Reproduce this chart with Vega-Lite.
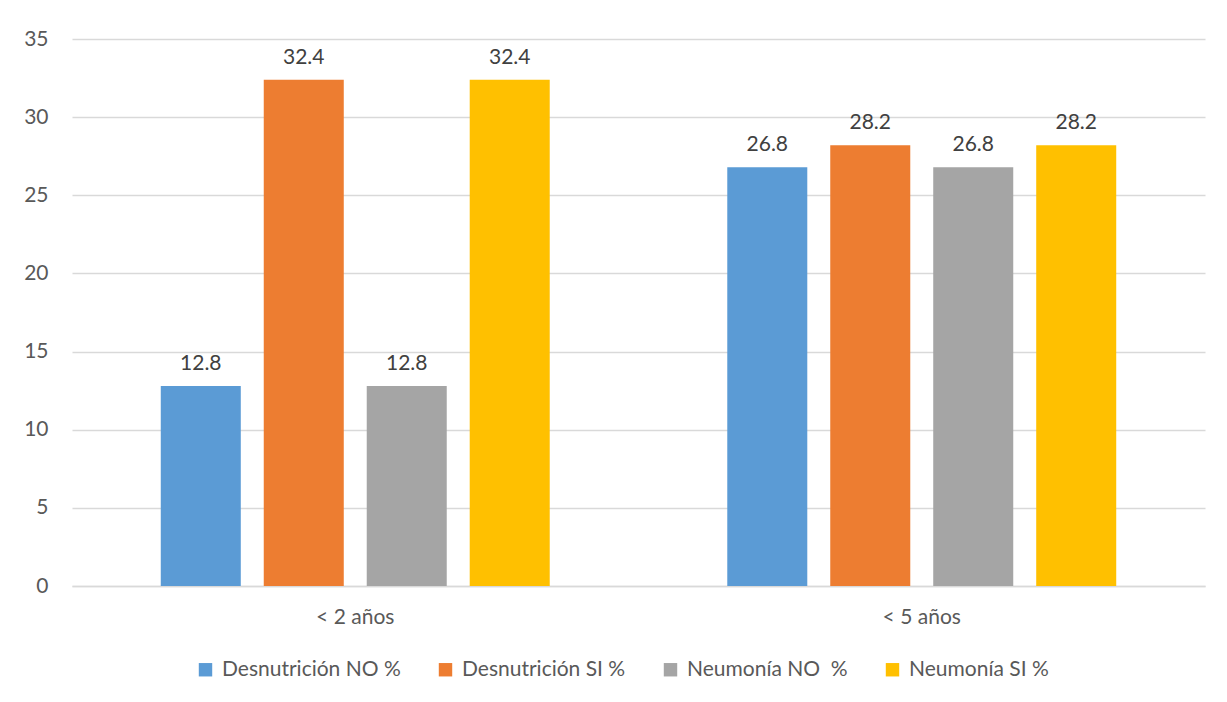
{
  "$schema": "https://vega.github.io/schema/vega-lite/v6.json",
  "autosize": {"type": "none"},
  "width": 1133,
  "height": 547,
  "padding": {"left": 72, "top": 39, "right": 22, "bottom": 116},
  "background": "white",
  "config": {
    "font": "Lato",
    "view": {"stroke": null},
    "axis": {"labelFont": "Lato", "labelColor": "#595959", "labelFontSize": 21, "titleFont": "Lato"},
    "legend": {"labelFont": "Lato", "labelColor": "#595959", "labelFontSize": 21, "labelLimit": 400}
  },
  "data": {
    "values": [
      {"grupo": "< 2 años", "serie": "Desnutrición NO %", "valor": 12.8},
      {"grupo": "< 2 años", "serie": "Desnutrición SI %", "valor": 32.4},
      {"grupo": "< 2 años", "serie": "Neumonía NO  %", "valor": 12.8},
      {"grupo": "< 2 años", "serie": "Neumonía SI %", "valor": 32.4},
      {"grupo": "< 5 años", "serie": "Desnutrición NO %", "valor": 26.8},
      {"grupo": "< 5 años", "serie": "Desnutrición SI %", "valor": 28.2},
      {"grupo": "< 5 años", "serie": "Neumonía NO  %", "valor": 26.8},
      {"grupo": "< 5 años", "serie": "Neumonía SI %", "valor": 28.2}
    ]
  },
  "encoding": {
    "x": {
      "field": "grupo",
      "type": "nominal",
      "sort": ["< 2 años", "< 5 años"],
      "scale": {"paddingInner": 0, "paddingOuter": 0},
      "axis": {
        "title": null,
        "labelAngle": 0,
        "labelPadding": 20,
        "ticks": false,
        "domainColor": "#d9d9d9",
        "domainWidth": 1.5
      }
    },
    "xOffset": {
      "field": "serie",
      "type": "nominal",
      "sort": ["Desnutrición NO %", "Desnutrición SI %", "Neumonía NO  %", "Neumonía SI %"],
      "scale": {"paddingInner": 0.223, "paddingOuter": 0.862}
    },
    "y": {
      "field": "valor",
      "type": "quantitative",
      "scale": {"domain": [0, 35]},
      "axis": {
        "title": null,
        "values": [0, 5, 10, 15, 20, 25, 30, 35],
        "domain": false,
        "ticks": false,
        "labelPadding": 24,
        "gridColor": "#d9d9d9",
        "gridWidth": 1.5
      }
    }
  },
  "layer": [
    {
      "mark": {"type": "bar"},
      "encoding": {
        "color": {
          "field": "serie",
          "type": "nominal",
          "sort": ["Desnutrición NO %", "Desnutrición SI %", "Neumonía NO  %", "Neumonía SI %"],
          "scale": {
            "domain": ["Desnutrición NO %", "Desnutrición SI %", "Neumonía NO  %", "Neumonía SI %"],
            "range": ["#5B9BD5", "#ED7D31", "#A5A5A5", "#FFC000"]
          },
          "legend": {
            "title": null,
            "orient": "none",
            "direction": "horizontal",
            "legendX": 123,
            "legendY": 620,
            "symbolType": "square",
            "symbolSize": 180,
            "symbolStrokeWidth": 0,
            "columnPadding": 34,
            "labelOffset": 6,
            "labelLimit": 400,
            "labelExpr": "datum.label == 'Neumonía NO  %' ? 'Neumonía NO\u00a0 %' : datum.label"
          }
        }
      }
    },
    {
      "mark": {"type": "text", "baseline": "bottom", "dy": -12, "fontSize": 21, "color": "#404040", "font": "Lato"},
      "encoding": {
        "text": {"field": "valor", "type": "quantitative", "format": ".1f"}
      }
    }
  ]
}
